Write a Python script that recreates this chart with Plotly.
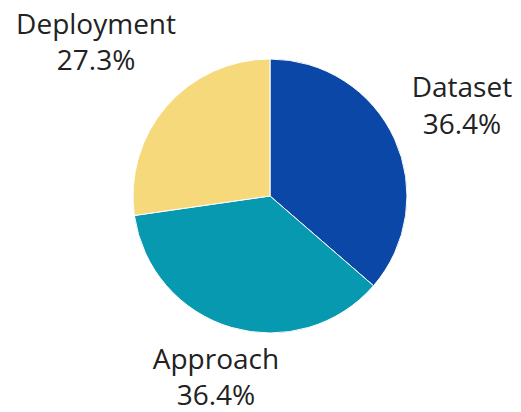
import numpy as np
import plotly.graph_objects as go

labels = ["Dataset", "Approach", "Deployment"]
values = [4, 4, 3]
colors = ["#0a47a6", "#0799b0", "#f6d97b"]

# layout constants (pixels)
W, H = 521, 412
CX, CY, R = 270, 196, 137
# label distance from centre, in pie radii
label_dist = np.array([1.54, 1.40, 1.68])

dom = dict(x=[(CX - R) / W, (CX + R) / W],
           y=[(H - CY - R) / H, (H - CY + R) / H])

vals = np.array(values, dtype=float)
total = vals.sum()
cum = np.cumsum(vals)
mid = np.deg2rad((cum - vals / 2) / total * 360.0)
pct = vals / total * 100
texts = [f"{l}<br>{p:.1f}%" for l, p in zip(labels, pct)]

fig = go.Figure()
fig.add_trace(go.Pie(
    labels=labels,
    values=values,
    sort=False,
    direction="clockwise",
    rotation=0,
    marker=dict(colors=colors, line=dict(color="white", width=1)),
    textinfo="none",
    showlegend=False,
    hoverinfo="label+percent",
    domain=dom,
    automargin=False,
))
fig.add_trace(go.Scatter(
    x=label_dist * np.sin(mid),
    y=label_dist * np.cos(mid),
    mode="text",
    text=texts,
    textposition="middle center",
    textfont=dict(family="Open Sans", size=28, color="#222222"),
    cliponaxis=False,
    showlegend=False,
    hoverinfo="skip",
))
fig.update_layout(
    width=W, height=H,
    margin=dict(l=0, r=0, t=0, b=0),
    paper_bgcolor="white",
    plot_bgcolor="rgba(0,0,0,0)",
    xaxis=dict(visible=False, range=[-CX / R, (W - CX) / R], fixedrange=True),
    yaxis=dict(visible=False, range=[-(H - CY) / R, CY / R], fixedrange=True),
)
fig.write_html("out.html")
